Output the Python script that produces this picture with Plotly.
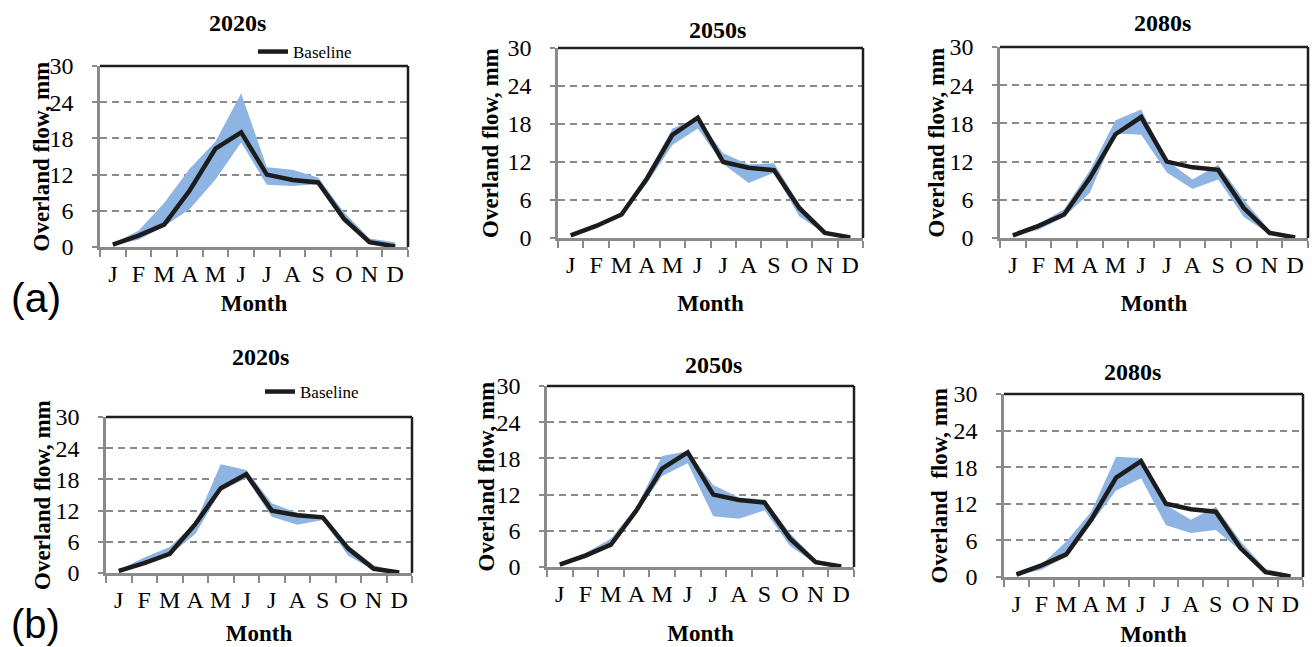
import plotly.graph_objects as go

# ---------------- data ----------------
months = ["J", "F", "M", "A", "M", "J", "J", "A", "S", "O", "N", "D"]
month_pos = list(range(1, 13))
y_ticks = [0, 6, 12, 18, 24, 30]

baseline = [0.4, 1.9, 3.7, 9.4, 16.3, 19.0, 12.0, 11.1, 10.7, 4.7, 0.8, 0.1]

a2020_upper = [0.6, 2.7, 7.3, 13.0, 17.5, 25.5, 13.2, 12.8, 11.5, 5.8, 1.4, 0.8]
a2020_lower = [0.3, 1.2, 3.4, 6.3, 11.2, 17.3, 10.3, 10.1, 10.4, 4.1, 0.6, 0.0]

a2050_upper = [0.5, 2.1, 3.9, 10.0, 17.3, 18.9, 13.4, 11.6, 11.8, 5.3, 1.0, 0.2]
a2050_lower = [0.3, 1.5, 3.5, 8.6, 14.7, 17.3, 11.7, 8.7, 10.3, 3.4, 0.7, 0.0]

a2080_upper = [0.5, 2.2, 4.5, 10.6, 18.5, 20.2, 12.2, 9.2, 11.5, 6.0, 1.2, 0.3]
a2080_lower = [0.3, 1.3, 3.3, 7.1, 16.4, 16.2, 10.3, 7.7, 9.2, 3.3, 0.6, 0.0]

b2020_upper = [0.6, 3.0, 5.0, 9.6, 20.9, 19.8, 13.4, 11.6, 10.9, 5.3, 1.5, 0.2]
b2020_lower = [0.3, 1.8, 3.5, 7.5, 15.8, 18.2, 10.8, 9.3, 10.2, 3.3, 0.6, 0.0]

b2050_upper = [0.8, 2.3, 4.7, 10.0, 18.4, 19.2, 13.6, 11.5, 11.2, 5.6, 1.2, 0.3]
b2050_lower = [0.3, 1.4, 3.5, 9.0, 15.1, 17.2, 8.4, 8.0, 9.4, 3.5, 0.6, 0.0]

b2080_upper = [0.9, 2.0, 5.8, 10.7, 19.7, 19.5, 11.8, 9.4, 11.5, 5.8, 1.3, 0.4]
b2080_lower = [0.3, 1.2, 3.3, 8.7, 14.2, 16.2, 8.5, 7.2, 7.7, 4.3, 0.6, 0.0]

panel_titles = ["2020s", "2050s", "2080s", "2020s", "2050s", "2080s"]
y_titles = ["Overland flow, mm"] * 5 + ["Overland\u00a0 flow, mm"]
uppers = [a2020_upper, a2050_upper, a2080_upper, b2020_upper, b2050_upper, b2080_upper]
lowers = [a2020_lower, a2050_lower, a2080_lower, b2020_lower, b2050_lower, b2080_lower]

# ---------------- layout geometry (pixels) ----------------
W, H = 1312, 647
# plot boxes: left, right, top, bottom
boxes = [
    (100, 408, 66, 247),
    (558, 863, 48, 238),
    (1000, 1308, 47, 238),
    (106, 412, 417, 573),
    (547, 854, 386, 567),
    (1004, 1303, 394, 577),
]
title_pos = [(237, 23), (717, 30), (1162, 23), (260, 357), (713, 365), (1132, 372)]
month_title_offset = [55, 64, 64, 59, 65, 56]
ytitle_center_x = [41, 491, 936, 42, 486, 939]

SERIF = "Liberation Serif, Times New Roman, serif"
SANS = "Liberation Sans, Arial, sans-serif"
GRAY = "#8a8a8a"
BAND = "#8db4e2"
LINE = "#1c1c1c"

fig = go.Figure()

for i in range(6):
    sfx = "" if i == 0 else str(i + 1)
    xa, ya = "x" + sfx, "y" + sfx
    fig.add_trace(go.Scatter(x=month_pos, y=lowers[i], mode="lines", line=dict(width=0, color=BAND),
                             showlegend=False, hoverinfo="skip", xaxis=xa, yaxis=ya))
    fig.add_trace(go.Scatter(x=month_pos, y=uppers[i], mode="lines", line=dict(width=0, color=BAND),
                             fill="tonexty", fillcolor=BAND, showlegend=False, hoverinfo="skip",
                             xaxis=xa, yaxis=ya))
    fig.add_trace(go.Scatter(x=month_pos, y=baseline, mode="lines", name="Baseline",
                             line=dict(color=LINE, width=4.5),
                             showlegend=(i in (0, 3)),
                             legend=("legend" if i < 3 else "legend2"),
                             xaxis=xa, yaxis=ya))

layout = dict(
    width=W, height=H,
    margin=dict(l=0, r=0, t=0, b=0, autoexpand=False),
    paper_bgcolor="white", plot_bgcolor="white",
    font=dict(family=SERIF, color="black"),
    annotations=[], shapes=[],
)

for i, (l, r, t, b) in enumerate(boxes):
    sfx = "" if i == 0 else str(i + 1)
    xdom = [l / W, r / W]
    ydom = [1 - b / H, 1 - t / H]
    layout["xaxis" + sfx] = dict(
        domain=xdom, anchor="y" + sfx, range=[0.5, 12.5], automargin=False,
        tickmode="array", tickvals=month_pos, ticktext=months,
        ticks="", showgrid=False, zeroline=False,
        showline=True, linecolor=GRAY, linewidth=2.5,
        tickfont=dict(family=SERIF, size=24, color="black"),
        ticklabelstandoff=3,
        minor=dict(tickmode="array", tickvals=[k + 0.5 for k in range(13)],
                   ticks="outside", ticklen=7, tickwidth=2, tickcolor=GRAY, showgrid=False),
        title=dict(text="<b>Month</b>", font=dict(family=SERIF, size=23, color="black"),
                   standoff=month_title_offset[i] - 45),
        fixedrange=True,
    )
    layout["yaxis" + sfx] = dict(
        domain=ydom, anchor="x" + sfx, range=[0, 30], automargin=False,
        tickmode="array", tickvals=y_ticks,
        ticks="outside", ticklen=5, tickwidth=2, tickcolor=GRAY,
        showline=True, linecolor=GRAY, linewidth=2.5,
        showgrid=True, gridcolor=GRAY, gridwidth=2, griddash="7px,5px",
        zeroline=False,
        tickfont=dict(family=SERIF, size=24, color="black"),
        ticklabelstandoff=14,
        fixedrange=True,
    )
    # y-axis title placed precisely
    layout["annotations"].append(dict(text="<b>" + y_titles[i] + "</b>",
                                      x=ytitle_center_x[i] / W, y=1 - ((t + b) / 2) / H,
                                      xref="paper", yref="paper", showarrow=False, textangle=-90,
                                      xanchor="center", yanchor="middle",
                                      font=dict(family=SERIF, size=23, color="black")))
    # black top and right frame
    layout["shapes"].append(dict(type="line", xref="x" + sfx + " domain", yref="y" + sfx + " domain",
                                 x0=0, x1=1, y0=1, y1=1, line=dict(color="#1e1e1e", width=2.5)))
    layout["shapes"].append(dict(type="line", xref="x" + sfx + " domain", yref="y" + sfx + " domain",
                                 x0=1, x1=1, y0=0, y1=1, line=dict(color="#1e1e1e", width=2.5)))
    tx, ty = title_pos[i]
    layout["annotations"].append(dict(text="<b>" + panel_titles[i] + "</b>", x=tx / W, y=1 - ty / H,
                                      xref="paper", yref="paper", showarrow=False,
                                      xanchor="center", yanchor="middle",
                                      font=dict(family=SERIF, size=24, color="black")))

layout["annotations"].append(dict(text="(a)", x=9 / W, y=1 - 298 / H, xref="paper", yref="paper",
                                  showarrow=False, xanchor="left", yanchor="middle",
                                  font=dict(family=SANS, size=41, color="black")))
layout["annotations"].append(dict(text="(b)", x=9 / W, y=1 - 624 / H, xref="paper", yref="paper",
                                  showarrow=False, xanchor="left", yanchor="middle",
                                  font=dict(family=SANS, size=40, color="black")))

layout["legend"] = dict(x=253 / W, y=1 - 52 / H, xanchor="left", yanchor="middle",
                        bgcolor="rgba(0,0,0,0)", borderwidth=0,
                        font=dict(family=SERIF, size=17, color="black"))
layout["legend2"] = dict(x=260 / W, y=1 - 392 / H, xanchor="left", yanchor="middle",
                         bgcolor="rgba(0,0,0,0)", borderwidth=0,
                         font=dict(family=SERIF, size=17, color="black"))

fig.update_layout(**layout)
fig.write_html("out.html", config={"displayModeBar": False},
               post_script="document.body.style.margin='0px';document.body.style.overflow='hidden';")
